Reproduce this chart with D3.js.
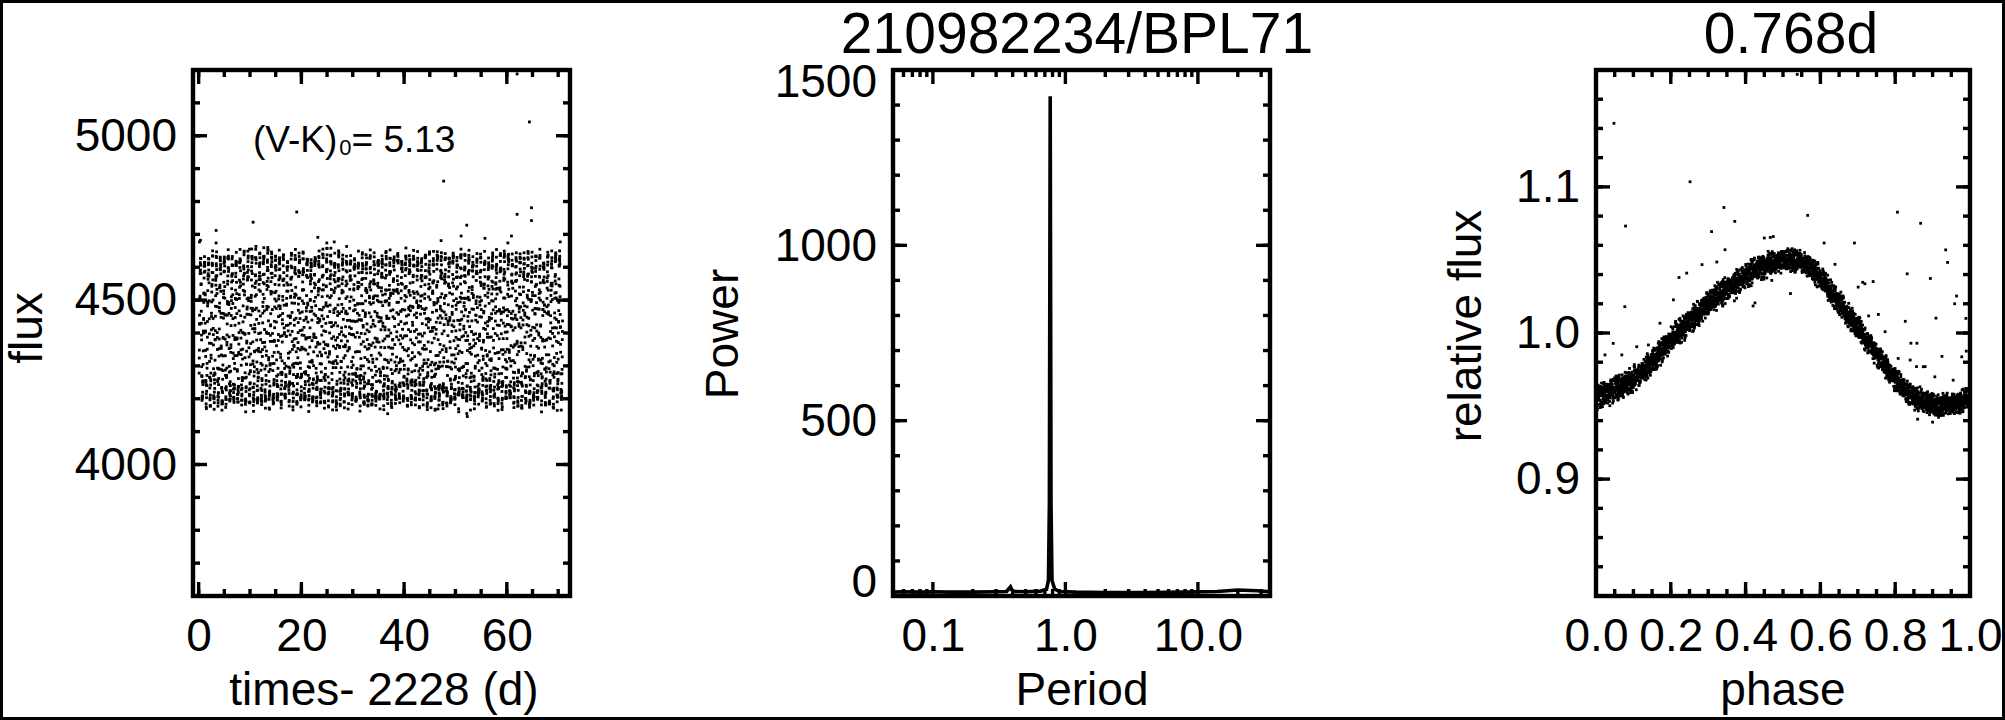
<!DOCTYPE html>
<html>
<head>
<meta charset="utf-8">
<script src="https://cdn.jsdelivr.net/npm/d3@7"></script>
<style>
  html, body { margin: 0; padding: 0; background: #fff; }
  text { font-family: "Liberation Sans", Arial, Helvetica, sans-serif; fill: #000; }
</style>
</head>
<body>
<svg id="chart" width="2005" height="720"></svg>
<script>
// ---------------- DATA ----------------
const starName = "210982234/BPL71";
const periodLabel = "0.768d";
const colourIndex = "5.13";

// light curve sampling (K2 long cadence) and level
const lcStartTime = 0.10;          // d after 2228
const lcEndTime = 70.85;
const cadenceDays = 0.020434;
const meanFlux = 4409;
const foldPeriod = 0.768;

// phase-folded curve: centre of the dense band and its half thickness, read every 0.05 in phase
const templatePhase   = [0.00, 0.05, 0.10, 0.15, 0.20, 0.25, 0.30, 0.35, 0.40, 0.45, 0.50,
                         0.55, 0.60, 0.65, 0.70, 0.75, 0.80, 0.85, 0.90, 0.95, 1.00];
const templateRelFlux = [0.956, 0.961, 0.968, 0.980, 0.995, 1.008, 1.020, 1.030, 1.039, 1.046, 1.050,
                         1.049, 1.038, 1.021, 1.004, 0.985, 0.968, 0.956, 0.951, 0.951, 0.956];
const templateSpread  = [0.009, 0.010, 0.010, 0.010, 0.010, 0.010, 0.010, 0.010, 0.010, 0.010, 0.009,
                         0.009, 0.009, 0.009, 0.009, 0.009, 0.009, 0.009, 0.009, 0.009, 0.009];

// isolated points in the light-curve panel
const lcOutlierTime = [0.15, 0.35, 3.4, 3.4, 9.9, 10.6, 13.5, 15.7, 19.1, 23.2, 24.95, 26.4, 46.6, 47.2,
                       47.7, 51.1, 52.2, 52.2, 52.3, 55.75, 60.2, 60.9, 62.0, 62.0, 64.4, 64.8, 64.8, 70.4];
const lcOutlierFlux = [4677, 4682, 4712, 4674, 4655, 4737, 4652, 4652, 4768, 4691, 4674, 4677, 4169, 4681,
                       4862, 4695, 4728, 4155, 4146, 4688, 4674, 4695, 5188, 4761, 5042, 4781, 4742, 4677];

// isolated points in the folded panel
const foldOutlierPhase = [0.048, 0.079, 0.077, 0.046, 0.024, 0.069, 0.109, 0.140, 0.171, 0.207, 0.2425,
  0.2515, 0.222, 0.2835, 0.309, 0.323, 0.342, 0.345, 0.371, 0.376, 0.37, 0.42, 0.425, 0.45, 0.466, 0.474,
  0.47, 0.52, 0.538, 0.566, 0.610, 0.639, 0.691, 0.701, 0.713, 0.719, 0.729, 0.741, 0.755, 0.773, 0.806,
  0.808, 0.827, 0.832, 0.840, 0.842, 0.857, 0.858, 0.860, 0.868, 0.875, 0.880, 0.894, 0.900, 0.906, 0.909,
  0.925, 0.935, 0.940, 0.955, 0.959, 0.964, 0.978, 0.989, 0.990];
const foldOutlierRelFlux = [1.1435, 1.0732, 1.018, 0.9929, 0.985, 0.985, 0.9906, 0.9918, 1.0067, 1.0227, 1.041,
  1.1035, 1.038, 1.0468, 1.0694, 1.0486, 1.0859, 1.057, 1.0764, 1.0238, 1.022, 1.0185, 1.0206, 1.065, 1.0654, 1.066,
  1.036, 1.027, 1.177, 1.0805, 1.0616, 1.047, 1.0616, 1.0314, 1.0347, 1.0337, 1.0117, 1.0352, 1.0127, 1.0009, 1.0827,
  0.9826, 1.008, 1.0405, 0.9815, 0.993, 0.977, 0.993, 0.941, 1.0751, 0.9769, 0.977, 1.0373, 0.939, 0.970, 1.0102,
  0.984, 1.0569, 1.0483, 0.9677, 1.020, 1.0253, 0.9837, 1.010, 0.9876];

// periodogram
const psPeriod = [0.05, 0.06, 0.08, 0.10, 0.13, 0.20, 0.30, 0.36, 0.385, 0.40, 0.50, 0.65, 0.72, 0.745,
                  0.757, 0.763, 0.768, 0.773, 0.779, 0.792, 0.83, 0.90, 1.2, 2.0, 4.0, 8.0, 14.0, 20.0, 28.0, 35.0];
const psPower  = [11, 12, 11, 12, 11, 11, 12, 13, 26, 13, 12, 14, 19, 45,
                  260, 900, 1425, 900, 260, 45, 20, 13, 11, 10, 10, 11, 13, 17, 15, 12];

// ticks
const lcXMajor = [0, 20, 40, 60];
const lcXMinor = d3.range(0, 71, 5);
const lcYMajor = [4000, 4500, 5000];
const lcYMinor = d3.range(3600, 5201, 100);
const psXMajor = [0.1, 1, 10];
const psXMajorLabels = ["0.1", "1.0", "10.0"];
const psXMinor = [0.06, 0.07, 0.08, 0.09, 0.2, 0.3, 0.4, 0.5, 0.6, 0.7, 0.8, 0.9,
                  2, 3, 4, 5, 6, 7, 8, 9, 20, 30];
const psYMajor = [0, 500, 1000, 1500];
const psYMinor = d3.range(0, 1501, 100);
const fpXMajor = [0, 0.2, 0.4, 0.6, 0.8, 1.0];
const fpXMinor = d3.range(0, 21).map(i => i * 0.05);
const fpYMajor = [0.9, 1.0, 1.1];
const fpYMinor = d3.range(0, 19).map(i => 0.82 + i * 0.02);

// ---------------- BUILD POINTS ----------------
// deterministic scatter inside the band (hash of the cadence number, triangular in [-1, 1])
function hash01(k) {
  let x = Math.imul(k ^ 0x5bd1e995, 0x27d4eb2d);
  x ^= x >>> 15; x = Math.imul(x, 0x85ebca6b); x ^= x >>> 13; x = Math.imul(x, 0xc2b2ae35); x ^= x >>> 16;
  return (x >>> 0) / 4294967296;
}
const nPts = Math.floor((lcEndTime - lcStartTime) / cadenceDays) + 1;
const templateAt = d3.scaleLinear().domain(templatePhase).range(templateRelFlux);
const spreadAt = d3.scaleLinear().domain(templatePhase).range(templateSpread);
const lcPoints = d3.range(nPts).map(i => {
  const t = lcStartTime + i * cadenceDays;
  const ph = ((t / foldPeriod) % 1 + 1) % 1;
  const s = hash01(2 * i + 7) + hash01(2 * i + 8) - 1;
  const rel = templateAt(ph) + s * spreadAt(ph);
  return { t, ph, rel, flux: rel * meanFlux };
});
const lcOutliers = lcOutlierTime.map((t, i) => ({ t, flux: lcOutlierFlux[i] }));
const foldOutliers = foldOutlierPhase.map((ph, i) => ({ ph, rel: foldOutlierRelFlux[i] }));
const psData = psPeriod.map((p, i) => ({ p, pw: psPower[i] }));

// ---------------- LAYOUT ----------------
const svg = d3.select("#chart");
const yTop = 70, yBot = 596;
const FS = 46;

svg.append("rect").attr("x", 1.5).attr("y", 1.5).attr("width", 2002).attr("height", 717)
  .attr("fill", "none").attr("stroke", "#000").attr("stroke-width", 3);

function box(xs, ys, xMaj, xMin, yMaj, yMin) {
  const g = svg.append("g").attr("stroke", "#000").attr("stroke-width", 3.4);
  const [x0, x1] = xs.range();
  const tickSet = (vals, len, side) => {
    const sel = g.append("g").selectAll("line").data(vals).join("line");
    if (side === "bottom") sel.attr("x1", d => xs(d)).attr("x2", d => xs(d)).attr("y1", yBot).attr("y2", yBot - len);
    if (side === "top")    sel.attr("x1", d => xs(d)).attr("x2", d => xs(d)).attr("y1", yTop).attr("y2", yTop + len);
    if (side === "left")   sel.attr("y1", d => ys(d)).attr("y2", d => ys(d)).attr("x1", x0).attr("x2", x0 + len);
    if (side === "right")  sel.attr("y1", d => ys(d)).attr("y2", d => ys(d)).attr("x1", x1).attr("x2", x1 - len);
  };
  const maj = 14, mn = 7;
  ["bottom", "top"].forEach(s => { tickSet(xMin, mn, s); tickSet(xMaj, maj, s); });
  ["left", "right"].forEach(s => { tickSet(yMin, mn, s); tickSet(yMaj, maj, s); });
  g.append("rect").attr("x", x0).attr("y", yTop).attr("width", x1 - x0).attr("height", yBot - yTop)
    .attr("fill", "none").attr("stroke-width", 4.4);
}

function labels(xs, ys, xMaj, xFmt, yMaj, yFmt) {
  const [x0] = xs.range();
  const gx = svg.append("g").attr("transform", `translate(0,${yBot})`)
    .call(d3.axisBottom(xs).tickValues(xMaj).tickFormat(xFmt).tickSize(0).tickPadding(22));
  gx.select(".domain").remove();
  gx.attr("font-size", FS).attr("font-family", null);
  const gy = svg.append("g").attr("transform", `translate(${x0},0)`)
    .call(d3.axisLeft(ys).tickValues(yMaj).tickFormat(yFmt).tickSize(0).tickPadding(16));
  gy.select(".domain").remove();
  gy.attr("font-size", FS).attr("font-family", null);
  return gy;
}

function yTitle(txt, x, y) {
  svg.append("text").attr("transform", `translate(${x},${y}) rotate(-90)`)
    .attr("text-anchor", "middle").attr("font-size", FS).text(txt);
}
function xTitle(txt, x) {
  svg.append("text").attr("x", x).attr("y", 705).attr("text-anchor", "middle")
    .attr("font-size", FS).text(txt);
}
function dots(data, xs, ys, xf, yf) {
  const s = 2.8;
  svg.append("g").selectAll("rect").data(data).join("rect")
    .attr("x", d => xs(xf(d)) - s / 2).attr("y", d => ys(yf(d)) - s / 2)
    .attr("width", s).attr("height", s).attr("fill", "#000");
}

// ---------------- PANEL 1: light curve ----------------
const x1s = d3.scaleLinear().domain([-1.1, 72.3]).range([193, 570]);
const y1s = d3.scaleLinear().domain([3600, 5200]).range([yBot, yTop]);
dots(lcPoints, x1s, y1s, d => d.t, d => d.flux);
dots(lcOutliers, x1s, y1s, d => d.t, d => d.flux);
box(x1s, y1s, lcXMajor, lcXMinor, lcYMajor, lcYMinor);
labels(x1s, y1s, lcXMajor, d3.format("d"), lcYMajor, d3.format("d"));
yTitle("flux", 42, 328);
xTitle("times- 2228 (d)", 384);
const ann = svg.append("text").attr("x", 253).attr("y", 152).attr("font-size", 37);
ann.append("tspan").text("(V-K)");
ann.append("tspan").attr("font-size", 22).attr("dx", 2).attr("dy", 3).text("0");
ann.append("tspan").attr("dy", -3).attr("dx", 0).text("= " + colourIndex);

// ---------------- PANEL 2: periodogram ----------------
const x2s = d3.scaleLog().domain([0.05, 35]).range([893, 1270]);
const y2s = d3.scaleLinear().domain([0, 1500]).range([yBot, yTop]);
svg.append("path").datum(psData)
  .attr("d", d3.line().x(d => x2s(d.p)).y(d => y2s(d.pw)))
  .attr("fill", "none").attr("stroke", "#000").attr("stroke-width", 3.6).attr("stroke-linejoin", "miter");
box(x2s, y2s, psXMajor, psXMinor, psYMajor, psYMinor);
const gy2 = labels(x2s, y2s, psXMajor, (d, i) => psXMajorLabels[i], psYMajor, d3.format("d"));
gy2.selectAll(".tick text").attr("y", d => d === 0 ? -14 : (d === 1500 ? 12 : 0));
yTitle("Power", 738, 334);
xTitle("Period", 1082);
svg.append("text").attr("x", 1077).attr("y", 53).attr("text-anchor", "middle")
  .attr("font-size", 57).text(starName);

// ---------------- PANEL 3: folded ----------------
const x3s = d3.scaleLinear().domain([0, 1]).range([1596, 1970]);
const y3s = d3.scaleLinear().domain([0.82, 1.18]).range([yBot, yTop]);
dots(lcPoints, x3s, y3s, d => d.ph, d => d.rel);
dots(foldOutliers, x3s, y3s, d => d.ph, d => d.rel);
box(x3s, y3s, fpXMajor, fpXMinor, fpYMajor, fpYMinor);
labels(x3s, y3s, fpXMajor, d3.format(".1f"), fpYMajor, d3.format(".1f"));
yTitle("relative flux", 1481, 326);
xTitle("phase", 1783);
svg.append("text").attr("x", 1791).attr("y", 53).attr("text-anchor", "middle")
  .attr("font-size", 57).text(periodLabel);
</script>
</body>
</html>
